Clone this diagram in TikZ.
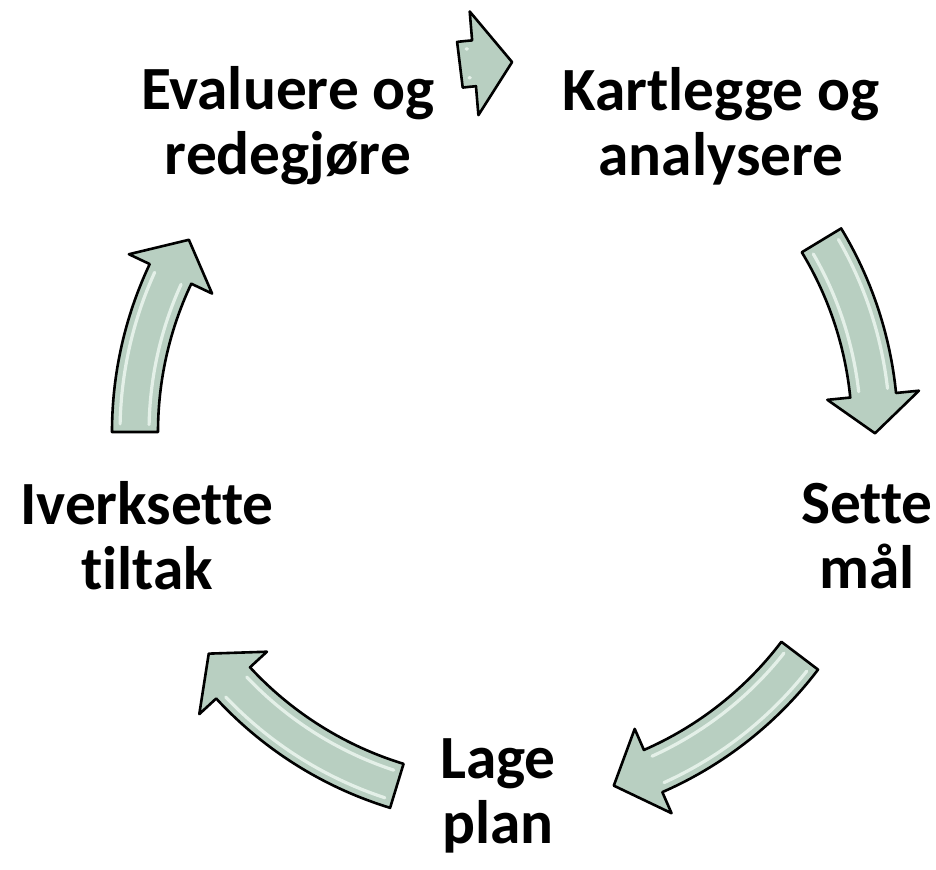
\documentclass[tikz,border=0pt]{standalone}
\usepackage{fontspec}
\setmainfont[Ligatures=NoCommon]{Carlito}
\usetikzlibrary{calc}
\definecolor{arw}{RGB}{184,207,193}
\definecolor{arwlight}{RGB}{236,246,240}

\begin{document}
\begin{tikzpicture}[x=0.5pt,y=0.5pt,line join=round,
  lbl/.style={font=\fontsize{30.7}{32.5}\selectfont\bfseries,align=center,inner sep=0pt},
  blockarrow/.style={fill=arw,draw=black,line width=1.3pt},
  bevel/.style={draw=arwlight,line width=1.6pt,line cap=round,opacity=0.85}]
  \useasboundingbox (0,0) rectangle (936,869);
  \coordinate (O) at (505,437);
  % steps of the cycle
  \node[lbl] (kart) at (721,743) {Kartlegge og\\analysere};
  \node[lbl] (mal)  at (867,333) {Sette\\mål};
  \node[lbl] (plan) at (498,73)  {Lage\\plan};
  \node[lbl] (tilt) at (147,333) {Iverksette\\tiltak};
  \node[lbl] (eval) at (288,743) {Evaluere og\\redegjøre};
  % curved block arrows: tail angle / head base angle / tip angle / head half width
  \foreach \ta/\hb/\tp/\hw in {31.2/5.7/-0.2/46, -37.2/-66.4/-72.9/46, -107/-137.3/-143.2/46, 180/154.7/148.7/46, 97/94.8/88.9/52} {
    \pgfmathsetmacro\ro{370+\hw}
    \pgfmathsetmacro\ri{370-\hw}
    \draw[blockarrow] ($(O)+(\ta:393)$) arc[start angle=\ta, end angle=\hb, radius=393]
      -- ($(O)+(\hb:\ro)$) -- ($(O)+(\tp:370)$) -- ($(O)+(\hb:\ri)$)
      -- ($(O)+(\hb:347)$) arc[start angle=\hb, end angle=\ta, radius=347] -- cycle;
    \pgfmathsetmacro\sa{\ta-1.2}
    \pgfmathsetmacro\sb{\hb+0.8}
    \draw[bevel] ($(O)+(\sa:385)$) arc[start angle=\sa, end angle=\sb, radius=385];
    \draw[bevel] ($(O)+(\sa:356)$) arc[start angle=\sa, end angle=\sb, radius=356];
  }
\end{tikzpicture}
\end{document}
